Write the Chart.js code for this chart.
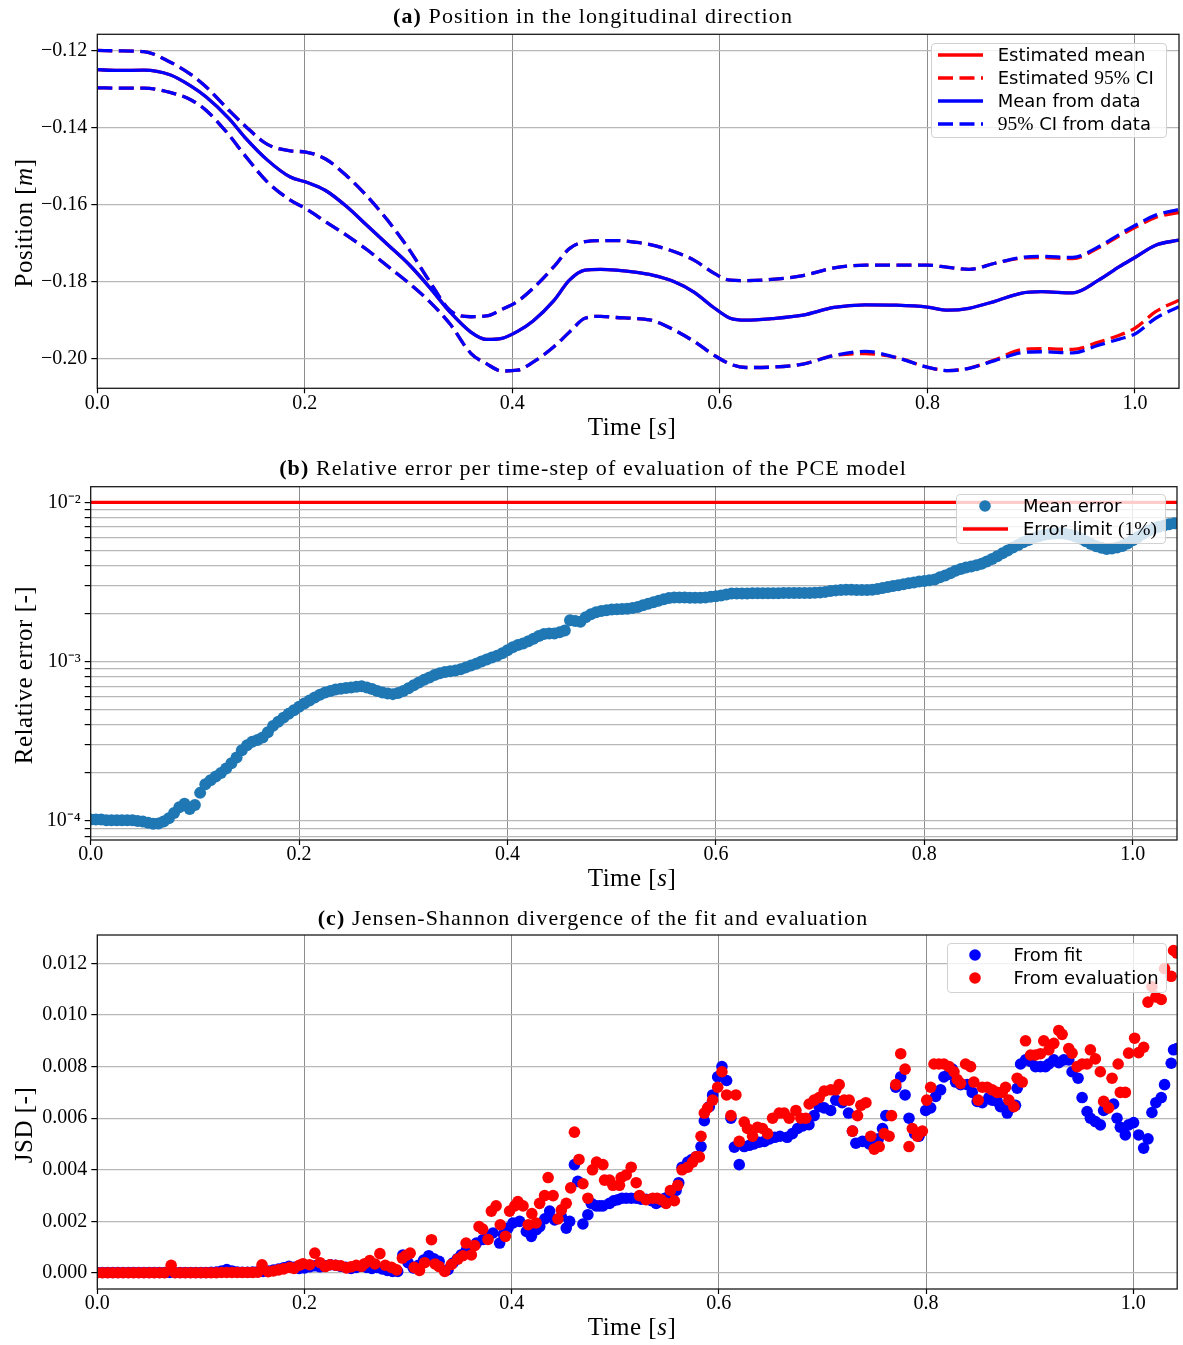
<!DOCTYPE html>
<html>
<head>
<meta charset="utf-8">
<title>PCE model evaluation</title>
<script src="https://cdn.jsdelivr.net/npm/chart.js@4.4.1/dist/chart.umd.min.js"></script>
<style>
    html, body { margin: 0; padding: 0; background: #fff; }
    #figure { position: relative; width: 1183px; height: 1345px; overflow: hidden; font-family: 'Liberation Serif', serif; color: #000; }
    canvas { position: absolute; left: 0; }
    .title { position: absolute; transform: translateX(-50%); font-size: 22px; line-height: 22px; letter-spacing: 1.1px; white-space: nowrap; }
    .xlab { position: absolute; transform: translateX(-50%); font-size: 25px; line-height: 25px; letter-spacing: 0.5px; white-space: nowrap; }
    .ylab { position: absolute; transform: translate(-50%, -50%) rotate(-90deg); font-size: 25px; line-height: 25px; letter-spacing: 0.5px; white-space: nowrap; }
    .legend { position: absolute; box-sizing: border-box; border: 1px solid #d2d2d2; border-radius: 4px; background: rgba(255, 255, 255, 0.8); }
    .row { position: absolute; left: 0; width: 100%; height: 24px; }
    .row svg { position: absolute; top: 0; }
    .ltext { position: absolute; top: 0; line-height: 24px; font-family: 'DejaVu Sans', sans-serif; font-size: 18px; white-space: nowrap; }
    .cm { font-family: 'Liberation Serif', serif; font-size: 19.5px; }
</style>
</head>
<body>
<div id="figure">
    <canvas id="chartA" width="1183" height="450" style="top:0px"></canvas>
    <canvas id="chartB" width="1183" height="450" style="top:450px"></canvas>
    <canvas id="chartC" width="1183" height="447" style="top:898px"></canvas>

    <div class="title" style="left:593px;top:5px"><b>(a)</b> Position in the longitudinal direction</div>
    <div class="title" style="left:593px;top:457px"><b>(b)</b> Relative error per time-step of evaluation of the PCE model</div>
    <div class="title" style="left:593px;top:906.5px"><b>(c)</b> Jensen-Shannon divergence of the fit and evaluation</div>

    <div class="xlab" style="left:632px;top:414px">Time [<i>s</i>]</div>
    <div class="xlab" style="left:632px;top:865px">Time [<i>s</i>]</div>
    <div class="xlab" style="left:632px;top:1314px">Time [<i>s</i>]</div>

    <div class="ylab" style="left:23px;top:223px">Position [<i>m</i>]</div>
    <div class="ylab" style="left:23px;top:675px">Relative error [-]</div>
    <div class="ylab" style="left:23px;top:1125px">JSD [-]</div>

    <!-- legend (a) -->
    <div class="legend" style="left:931px;top:43px;width:236px;height:95px">
        <div class="row" style="top:-1.5px">
            <svg width="45" height="24" style="left:5.5px"><line x1="0" y1="12" x2="45" y2="12" stroke="#ff0000" stroke-width="3.3"/></svg>
            <span class="ltext" style="left:65.7px">Estimated mean</span>
        </div>
        <div class="row" style="top:21.8px">
            <svg width="45" height="24" style="left:5.5px"><line x1="0" y1="12" x2="45" y2="12" stroke="#ff0000" stroke-width="3.3" stroke-dasharray="15 6.5"/></svg>
            <span class="ltext" style="left:65.7px">Estimated <span class="cm">95%</span> CI</span>
        </div>
        <div class="row" style="top:45.1px">
            <svg width="45" height="24" style="left:5.5px"><line x1="0" y1="12" x2="45" y2="12" stroke="#0000ff" stroke-width="3.3"/></svg>
            <span class="ltext" style="left:65.7px">Mean from data</span>
        </div>
        <div class="row" style="top:68.4px">
            <svg width="45" height="24" style="left:5.5px"><line x1="0" y1="12" x2="45" y2="12" stroke="#0000ff" stroke-width="3.3" stroke-dasharray="15 6.5"/></svg>
            <span class="ltext" style="left:65.7px"><span class="cm">95%</span> CI from data</span>
        </div>
    </div>

    <!-- legend (b) -->
    <div class="legend" style="left:956px;top:494px;width:210px;height:50px">
        <div class="row" style="top:-1.3px">
            <svg width="14" height="24" style="left:21.2px"><circle cx="7" cy="12" r="5.8" fill="#1f77b4"/></svg>
            <span class="ltext" style="left:66px">Mean error</span>
        </div>
        <div class="row" style="top:22px">
            <svg width="45" height="24" style="left:5.9px"><line x1="0" y1="12" x2="45" y2="12" stroke="#ff0000" stroke-width="3.3"/></svg>
            <span class="ltext" style="left:66px">Error limit <span class="cm">(1%)</span></span>
        </div>
    </div>

    <!-- legend (c) -->
    <div class="legend" style="left:947px;top:943px;width:220px;height:50px">
        <div class="row" style="top:-1.3px">
            <svg width="14" height="24" style="left:20.4px"><circle cx="7" cy="12" r="5.8" fill="#0000ff"/></svg>
            <span class="ltext" style="left:65.6px">From fit</span>
        </div>
        <div class="row" style="top:22px">
            <svg width="14" height="24" style="left:20.4px"><circle cx="7" cy="12" r="5.8" fill="#ff0000"/></svg>
            <span class="ltext" style="left:65.6px">From evaluation</span>
        </div>
    </div>
</div>

<script>
/* =========================
   Data
========================= */
const tMax = 1.0425;
const timeTicks = [0, 0.2, 0.4, 0.6, 0.8, 1.0];

// (a) position, mean and 95% CI
const posTime = [0, 0.02, 0.045, 0.07, 0.09, 0.105, 0.127, 0.142, 0.164, 0.186,
    0.201, 0.22, 0.24, 0.26, 0.28, 0.30, 0.32, 0.34, 0.36, 0.375,
    0.39, 0.405, 0.42, 0.44, 0.455, 0.47, 0.485, 0.50, 0.52, 0.535,
    0.555, 0.575, 0.595, 0.61, 0.625, 0.65, 0.68, 0.71, 0.74, 0.77,
    0.80, 0.82, 0.84, 0.865, 0.89, 0.91, 0.94, 0.965, 0.985, 1.0,
    1.02, 1.0425];
const meanData = [-0.1250, -0.1252, -0.1251, -0.1263, -0.1292, -0.1321, -0.1377, -0.1425, -0.1485, -0.1529,
    -0.1542, -0.1564, -0.1605, -0.1655, -0.1705, -0.1755, -0.1815, -0.1880, -0.1932, -0.1951,
    -0.1948, -0.1930, -0.1903, -0.1850, -0.1797, -0.1771, -0.1769, -0.1771, -0.1777, -0.1784,
    -0.1800, -0.1828, -0.1870, -0.1896, -0.1901, -0.1897, -0.1888, -0.1868, -0.1861, -0.1862,
    -0.1867, -0.1875, -0.1870, -0.1852, -0.1831, -0.1827, -0.1830, -0.1797, -0.1762, -0.1738,
    -0.1706, -0.1693];
const meanEst = meanData.slice();
const upperData = [-0.1200, -0.1201, -0.1203, -0.1230, -0.1262, -0.1295, -0.1356, -0.1395, -0.1444, -0.1461,
    -0.1464, -0.1482, -0.1525, -0.1579, -0.1642, -0.1715, -0.1799, -0.1876, -0.1892, -0.1890,
    -0.1873, -0.1852, -0.1818, -0.1762, -0.1715, -0.1697, -0.1694, -0.1694, -0.1699, -0.1706,
    -0.1722, -0.1745, -0.1780, -0.1797, -0.1798, -0.1795, -0.1785, -0.1765, -0.1758, -0.1758,
    -0.1758, -0.1764, -0.1769, -0.1753, -0.1738, -0.1735, -0.1738, -0.1710, -0.1678, -0.1655,
    -0.1628, -0.1613];
const upperEst = [-0.1200, -0.1201, -0.1203, -0.1230, -0.1262, -0.1295, -0.1356, -0.1395, -0.1444, -0.1461,
    -0.1464, -0.1482, -0.1525, -0.1579, -0.1642, -0.1715, -0.1799, -0.1876, -0.1892, -0.1890,
    -0.1873, -0.1852, -0.1818, -0.1762, -0.1715, -0.1697, -0.1694, -0.1694, -0.1699, -0.1706,
    -0.1722, -0.1745, -0.1780, -0.1797, -0.1798, -0.1795, -0.1785, -0.1765, -0.1758, -0.1758,
    -0.1758, -0.1764, -0.1769, -0.1753, -0.1740, -0.1738, -0.1741, -0.1713, -0.1682, -0.1660,
    -0.1634, -0.1621];
const lowerData = [-0.1297, -0.1298, -0.1298, -0.1309, -0.1328, -0.1356, -0.1420, -0.1472, -0.1542, -0.1589,
    -0.1611, -0.1645, -0.1680, -0.1718, -0.1761, -0.1804, -0.1852, -0.1911, -0.1987, -0.2014,
    -0.2033, -0.2031, -0.2010, -0.1970, -0.1932, -0.1896, -0.1891, -0.1894, -0.1897, -0.1902,
    -0.1925, -0.1956, -0.1993, -0.2015, -0.2024, -0.2023, -0.2015, -0.1993, -0.1982, -0.1998,
    -0.2023, -0.2032, -0.2026, -0.2006, -0.1986, -0.1983, -0.1986, -0.1966, -0.1950, -0.1937,
    -0.1896, -0.1866];
const lowerEst = [-0.1297, -0.1298, -0.1298, -0.1309, -0.1328, -0.1356, -0.1420, -0.1472, -0.1542, -0.1589,
    -0.1611, -0.1645, -0.1680, -0.1718, -0.1761, -0.1804, -0.1852, -0.1911, -0.1987, -0.2014,
    -0.2033, -0.2031, -0.2010, -0.1970, -0.1932, -0.1896, -0.1891, -0.1894, -0.1897, -0.1902,
    -0.1925, -0.1956, -0.1993, -0.2015, -0.2024, -0.2023, -0.2015, -0.1993, -0.1988, -0.1998,
    -0.2023, -0.2032, -0.2026, -0.2004, -0.1978, -0.1975, -0.1977, -0.1958, -0.1940, -0.1922,
    -0.1879, -0.1849];
const posTicks = [-0.20, -0.18, -0.16, -0.14, -0.12];

// (b) relative error of the PCE evaluation
const errTime = [0, 0.005, 0.01, 0.015, 0.02, 0.025, 0.03, 0.035, 0.04, 0.045,
    0.05, 0.055, 0.06, 0.065, 0.07, 0.075, 0.08, 0.085, 0.09, 0.095,
    0.1, 0.105, 0.11, 0.115, 0.12, 0.125, 0.13, 0.135, 0.14, 0.145,
    0.15, 0.155, 0.16, 0.165, 0.17, 0.175, 0.18, 0.185, 0.19, 0.195,
    0.2, 0.205, 0.21, 0.215, 0.22, 0.225, 0.23, 0.235, 0.24, 0.245,
    0.25, 0.255, 0.26, 0.265, 0.27, 0.275, 0.28, 0.285, 0.29, 0.295,
    0.3, 0.305, 0.31, 0.315, 0.32, 0.325, 0.33, 0.335, 0.34, 0.345,
    0.35, 0.355, 0.36, 0.365, 0.37, 0.375, 0.38, 0.385, 0.39, 0.395,
    0.4, 0.405, 0.41, 0.415, 0.42, 0.425, 0.43, 0.435, 0.44, 0.445,
    0.45, 0.455, 0.46, 0.465, 0.47, 0.475, 0.48, 0.485, 0.49, 0.495,
    0.5, 0.505, 0.51, 0.515, 0.52, 0.525, 0.53, 0.535, 0.54, 0.545,
    0.55, 0.555, 0.56, 0.565, 0.57, 0.575, 0.58, 0.585, 0.59, 0.595,
    0.6, 0.605, 0.61, 0.615, 0.62, 0.625, 0.63, 0.635, 0.64, 0.645,
    0.65, 0.655, 0.66, 0.665, 0.67, 0.675, 0.68, 0.685, 0.69, 0.695,
    0.7, 0.705, 0.71, 0.715, 0.72, 0.725, 0.73, 0.735, 0.74, 0.745,
    0.75, 0.755, 0.76, 0.765, 0.77, 0.775, 0.78, 0.785, 0.79, 0.795,
    0.8, 0.805, 0.81, 0.815, 0.82, 0.825, 0.83, 0.835, 0.84, 0.845,
    0.85, 0.855, 0.86, 0.865, 0.87, 0.875, 0.88, 0.885, 0.89, 0.895,
    0.9, 0.905, 0.91, 0.915, 0.92, 0.925, 0.93, 0.935, 0.94, 0.945,
    0.95, 0.955, 0.96, 0.965, 0.97, 0.975, 0.98, 0.985, 0.99, 0.995,
    1.0, 1.005, 1.01, 1.015, 1.02, 1.025, 1.03, 1.035, 1.04];
const errValue = [1.02e-4, 1.02e-4, 1.02e-4, 1.01e-4, 1.01e-4, 1.01e-4, 1.01e-4, 1.01e-4, 1.01e-4, 1.00e-4,
    9.9e-5, 9.75e-5, 9.6e-5, 9.65e-5, 9.9e-5, 1.04e-4, 1.12e-4, 1.22e-4, 1.28e-4, 1.19e-4,
    1.26e-4, 1.50e-4, 1.70e-4, 1.80e-4, 1.90e-4, 2.00e-4, 2.13e-4, 2.30e-4, 2.50e-4, 2.78e-4,
    2.98e-4, 3.14e-4, 3.22e-4, 3.34e-4, 3.60e-4, 3.95e-4, 4.20e-4, 4.45e-4, 4.70e-4, 4.95e-4,
    5.20e-4, 5.45e-4, 5.70e-4, 5.95e-4, 6.20e-4, 6.40e-4, 6.55e-4, 6.68e-4, 6.75e-4, 6.82e-4,
    6.88e-4, 6.95e-4, 7.00e-4, 6.88e-4, 6.72e-4, 6.55e-4, 6.40e-4, 6.30e-4, 6.25e-4, 6.35e-4,
    6.55e-4, 6.80e-4, 7.10e-4, 7.40e-4, 7.70e-4, 7.95e-4, 8.25e-4, 8.45e-4, 8.60e-4, 8.70e-4,
    8.80e-4, 8.95e-4, 9.20e-4, 9.45e-4, 9.70e-4, 1.00e-3, 1.03e-3, 1.06e-3, 1.09e-3, 1.13e-3,
    1.18e-3, 1.23e-3, 1.27e-3, 1.30e-3, 1.34e-3, 1.39e-3, 1.45e-3, 1.49e-3, 1.50e-3, 1.50e-3,
    1.53e-3, 1.57e-3, 1.82e-3, 1.80e-3, 1.78e-3, 1.90e-3, 1.98e-3, 2.04e-3, 2.08e-3, 2.10e-3,
    2.12e-3, 2.13e-3, 2.14e-3, 2.15e-3, 2.17e-3, 2.20e-3, 2.26e-3, 2.31e-3, 2.36e-3, 2.41e-3,
    2.46e-3, 2.51e-3, 2.53e-3, 2.53e-3, 2.53e-3, 2.52e-3, 2.52e-3, 2.52e-3, 2.53e-3, 2.55e-3,
    2.57e-3, 2.60e-3, 2.64e-3, 2.68e-3, 2.68e-3, 2.68e-3, 2.68e-3, 2.69e-3, 2.69e-3, 2.69e-3,
    2.69e-3, 2.69e-3, 2.69e-3, 2.70e-3, 2.70e-3, 2.70e-3, 2.70e-3, 2.70e-3, 2.70e-3, 2.71e-3,
    2.72e-3, 2.74e-3, 2.77e-3, 2.80e-3, 2.82e-3, 2.83e-3, 2.83e-3, 2.82e-3, 2.82e-3, 2.82e-3,
    2.83e-3, 2.86e-3, 2.90e-3, 2.94e-3, 2.98e-3, 3.02e-3, 3.06e-3, 3.10e-3, 3.14e-3, 3.18e-3,
    3.21e-3, 3.24e-3, 3.28e-3, 3.38e-3, 3.47e-3, 3.58e-3, 3.72e-3, 3.82e-3, 3.90e-3, 3.96e-3,
    4.03e-3, 4.12e-3, 4.25e-3, 4.40e-3, 4.58e-3, 4.78e-3, 4.98e-3, 5.20e-3, 5.40e-3, 5.62e-3,
    5.80e-3, 5.98e-3, 6.13e-3, 6.25e-3, 6.33e-3, 6.38e-3, 6.40e-3, 6.35e-3, 6.25e-3, 6.10e-3,
    5.92e-3, 5.70e-3, 5.48e-3, 5.30e-3, 5.18e-3, 5.10e-3, 5.12e-3, 5.20e-3, 5.32e-3, 5.52e-3,
    5.78e-3, 6.05e-3, 6.35e-3, 6.62e-3, 6.85e-3, 7.02e-3, 7.15e-3, 7.28e-3, 7.38e-3];
const errorLimit = 0.01;
const errTicks = [8e-5, 9e-5,
    1e-4, 2e-4, 3e-4, 4e-4, 5e-4, 6e-4, 7e-4, 8e-4, 9e-4,
    1e-3, 2e-3, 3e-3, 4e-3, 5e-3, 6e-3, 7e-3, 8e-3, 9e-3,
    1e-2];
const errDecades = [1e-4, 1e-3, 1e-2];
const errDecadeLabels = ['10\u207B\u2074', '10\u207B\u00B3', '10\u207B\u00B2'];

// (c) Jensen-Shannon divergence
const fitTime = [0, 0.005, 0.01, 0.015, 0.02, 0.025, 0.03, 0.035, 0.04, 0.045,
    0.05, 0.055, 0.06, 0.065, 0.07, 0.075, 0.08, 0.085, 0.09, 0.095,
    0.1, 0.105, 0.11, 0.115, 0.12, 0.125, 0.13, 0.135, 0.14, 0.145,
    0.15, 0.155, 0.16, 0.165, 0.17, 0.175, 0.18, 0.185, 0.19, 0.195,
    0.2, 0.205, 0.21, 0.215, 0.22, 0.225, 0.23, 0.235, 0.24, 0.245,
    0.25, 0.255, 0.26, 0.265, 0.27, 0.275, 0.28, 0.285, 0.29, 0.295,
    0.3, 0.305, 0.31, 0.315, 0.32, 0.325, 0.33, 0.3386, 0.3434, 0.3475,
    0.3515, 0.3563, 0.361, 0.366, 0.3724, 0.377, 0.382, 0.3884, 0.392, 0.3965,
    0.4013, 0.4077, 0.4142, 0.419, 0.4239, 0.4271, 0.432, 0.4367, 0.4415, 0.4479,
    0.4527, 0.456, 0.4606, 0.4639, 0.4688, 0.4736, 0.4768, 0.4816, 0.4849, 0.4881,
    0.4945, 0.4985, 0.5025, 0.5065, 0.5106, 0.5154, 0.5202, 0.525, 0.5298, 0.535,
    0.5395, 0.5443, 0.548, 0.5523, 0.5587, 0.5613, 0.5645, 0.57, 0.574, 0.578,
    0.5828, 0.586, 0.5908, 0.594, 0.5989, 0.603, 0.6075, 0.6117, 0.615, 0.6197,
    0.6245, 0.6294, 0.634, 0.639, 0.644, 0.649, 0.654, 0.659, 0.666, 0.671,
    0.676, 0.681, 0.687, 0.692, 0.6968, 0.7017, 0.708, 0.7129, 0.719, 0.7252,
    0.729, 0.7323, 0.7387, 0.7452, 0.75, 0.754, 0.758, 0.7612, 0.7708, 0.7756,
    0.7798, 0.7836, 0.789, 0.7933, 0.7997, 0.8045, 0.8093, 0.8141, 0.8173, 0.822,
    0.8254, 0.8286, 0.8334, 0.8398, 0.8446, 0.8494, 0.8543, 0.8607, 0.8639, 0.8687,
    0.8719, 0.8784, 0.8816, 0.8864, 0.888, 0.8913, 0.8961, 0.9009, 0.9057, 0.9105,
    0.9153, 0.9186, 0.9234, 0.9282, 0.933, 0.9378, 0.941, 0.9468, 0.9507, 0.9555,
    0.9587, 0.9635, 0.9683, 0.9715, 0.9811, 0.9844, 0.9876, 0.9924, 0.9956, 1.0004,
    1.0053, 1.0101, 1.0143, 1.0181, 1.0219, 1.0271, 1.0303, 1.0367, 1.039, 1.0422];
const fitJsd = [2e-5, 2e-5, 2e-5, 2e-5, 2e-5, 2e-5, 2e-5, 2e-5, 2e-5, 2e-5,
    2e-5, 2e-5, 2e-5, 2e-5, 2e-5, 2e-5, 2e-5, 2e-5, 2e-5, 2e-5,
    2e-5, 2e-5, 3e-5, 4e-5, 8e-5, 1.3e-4, 8e-5, 4e-5, 3e-5, 3e-5,
    4e-5, 5e-5, 6e-5, 8e-5, 1.1e-4, 1.5e-4, 2.0e-4, 2.6e-4, 2.2e-4, 1.8e-4,
    2.0e-4, 2.4e-4, 2.8e-4, 2.4e-4, 2.8e-4, 3.2e-4, 3.0e-4, 2.6e-4, 2.2e-4, 1.8e-4,
    2.2e-4, 2.6e-4, 2.2e-4, 1.8e-4, 2.2e-4, 1.6e-4, 1.0e-4, 6e-5, 6e-5, 7.0e-4,
    4.0e-4, 2.0e-4, 3.0e-4, 5.0e-4, 6.7e-4, 5.5e-4, 4.5e-4, 1.3e-4, 3.9e-4, 5.5e-4,
    7.1e-4, 9.0e-4, 1.0e-3, 1.16e-3, 1.3e-3, 1.4e-3, 1.55e-3, 1.16e-3, 1.5e-3, 1.74e-3,
    1.94e-3, 2.0e-3, 1.61e-3, 1.42e-3, 1.68e-3, 1.8e-3, 2.1e-3, 2.4e-3, 2.06e-3, 2.2e-3,
    1.74e-3, 2.0e-3, 4.2e-3, 3.55e-3, 1.9e-3, 2.26e-3, 2.7e-3, 2.6e-3, 2.6e-3, 2.6e-3,
    2.7e-3, 2.8e-3, 2.84e-3, 2.9e-3, 2.9e-3, 2.9e-3, 2.9e-3, 2.86e-3, 2.86e-3, 2.8e-3,
    2.7e-3, 2.77e-3, 2.9e-3, 3.0e-3, 3.2e-3, 3.5e-3, 4.1e-3, 4.3e-3, 4.4e-3, 4.5e-3,
    4.9e-3, 5.9e-3, 6.45e-3, 6.9e-3, 7.6e-3, 8.0e-3, 7.46e-3, 6.0e-3, 4.88e-3, 4.2e-3,
    4.9e-3, 4.95e-3, 5.0e-3, 5.07e-3, 5.1e-3, 5.2e-3, 5.26e-3, 5.3e-3, 5.26e-3, 5.4e-3,
    5.6e-3, 5.7e-3, 5.75e-3, 6.1e-3, 6.45e-3, 6.4e-3, 6.3e-3, 6.7e-3, 6.6e-3, 6.2e-3,
    5.5e-3, 5.03e-3, 5.1e-3, 5.0e-3, 4.9e-3, 5.2e-3, 5.6e-3, 6.1e-3, 7.2e-3, 7.6e-3,
    6.9e-3, 6.0e-3, 5.4e-3, 5.3e-3, 6.3e-3, 6.4e-3, 6.84e-3, 7.1e-3, 7.6e-3, 7.7e-3,
    7.9e-3, 7.4e-3, 7.3e-3, 7.3e-3, 7.0e-3, 6.65e-3, 6.6e-3, 6.8e-3, 6.7e-3, 6.65e-3,
    6.45e-3, 6.2e-3, 6.4e-3, 6.5e-3, 7.16e-3, 8.1e-3, 8.26e-3, 8.2e-3, 8.0e-3, 8.0e-3,
    8.0e-3, 8.1e-3, 8.26e-3, 8.15e-3, 8.26e-3, 8.26e-3, 7.8e-3, 7.55e-3, 6.8e-3, 6.26e-3,
    6.0e-3, 5.87e-3, 5.74e-3, 6.3e-3, 6.55e-3, 6.0e-3, 5.65e-3, 5.35e-3, 5.74e-3, 5.83e-3,
    5.35e-3, 4.84e-3, 5.2e-3, 6.22e-3, 6.6e-3, 6.8e-3, 7.3e-3, 8.13e-3, 8.65e-3, 8.7e-3];
const evalTime = [0, 0.005, 0.01, 0.015, 0.02, 0.025, 0.03, 0.035, 0.04, 0.045,
    0.05, 0.055, 0.06, 0.065, 0.0713, 0.075, 0.08, 0.085, 0.09, 0.095,
    0.1, 0.105, 0.11, 0.115, 0.12, 0.125, 0.13, 0.135, 0.14, 0.145,
    0.15, 0.155, 0.159, 0.165, 0.17, 0.175, 0.18, 0.186, 0.19, 0.195,
    0.1986, 0.205, 0.21, 0.215, 0.22, 0.2245, 0.23, 0.235, 0.2406, 0.245,
    0.25, 0.255, 0.258, 0.263, 0.268, 0.2728, 0.278, 0.284, 0.289, 0.2945,
    0.298, 0.302, 0.306, 0.311, 0.316, 0.3226, 0.326, 0.33, 0.3354, 0.3418,
    0.348, 0.353, 0.356, 0.3611, 0.3643, 0.3685, 0.372, 0.3772, 0.3804, 0.385,
    0.389, 0.394, 0.398, 0.403, 0.406, 0.411, 0.416, 0.4195, 0.4236, 0.427,
    0.4318, 0.4352, 0.44, 0.4447, 0.448, 0.4527, 0.457, 0.4606, 0.465, 0.4688,
    0.4736, 0.478, 0.482, 0.4881, 0.4897, 0.4945, 0.4977, 0.5041, 0.5057, 0.5106,
    0.5154, 0.5202, 0.5234, 0.5298, 0.5362, 0.5405, 0.5443, 0.5491, 0.5533, 0.5571,
    0.5603, 0.5645, 0.57, 0.5747, 0.578, 0.5812, 0.5828, 0.586, 0.5892, 0.594,
    0.5989, 0.603, 0.6075, 0.6117, 0.6165, 0.6197, 0.6245, 0.6277, 0.6326, 0.6374,
    0.6422, 0.647, 0.6519, 0.6583, 0.6631, 0.6679, 0.6744, 0.6792, 0.684, 0.6872,
    0.692, 0.6968, 0.7017, 0.7081, 0.7129, 0.7162, 0.721, 0.7258, 0.729, 0.7339,
    0.7371, 0.742, 0.7467, 0.75, 0.7548, 0.7596, 0.7644, 0.7667, 0.7708, 0.7756,
    0.7798, 0.7836, 0.7868, 0.7917, 0.7965, 0.8007, 0.8045, 0.8077, 0.8125, 0.8173,
    0.8222, 0.827, 0.8302, 0.8334, 0.8382, 0.843, 0.8462, 0.8504, 0.8543, 0.8591,
    0.8639, 0.8687, 0.8736, 0.8768, 0.88, 0.8848, 0.888, 0.8929, 0.8961, 0.9009,
    0.9057, 0.9105, 0.9137, 0.9186, 0.9234, 0.9282, 0.9314, 0.9378, 0.941, 0.9459,
    0.9507, 0.9555, 0.9587, 0.9635, 0.9683, 0.9715, 0.9763, 0.9796, 0.9855, 0.9876,
    0.9924, 0.9956, 1.0014, 1.0053, 1.0101, 1.0143, 1.0181, 1.0219, 1.0271, 1.0303,
    1.0367, 1.039, 1.0422];
const evalJsd = [1e-5, 1e-5, 1e-5, 1e-5, 1e-5, 1e-5, 1e-5, 1e-5, 1e-5, 1e-5,
    1e-5, 1e-5, 1e-5, 1e-5, 3.0e-4, 1e-5, 1e-5, 1e-5, 1e-5, 1e-5,
    1e-5, 1e-5, 1e-5, 1e-5, 2e-5, 2e-5, 2e-5, 2e-5, 2e-5, 2e-5,
    2e-5, 3e-5, 3.2e-4, 5e-5, 8e-5, 1.2e-4, 1.6e-4, 2.2e-4, 1.8e-4, 3.0e-4,
    3.6e-4, 3.2e-4, 7.7e-4, 4.0e-4, 2.5e-4, 3.2e-4, 3.0e-4, 2.8e-4, 2.0e-4, 2.4e-4,
    3.0e-4, 2.6e-4, 3.6e-4, 4.8e-4, 3.5e-4, 7.5e-4, 3.0e-4, 2.2e-4, 1.2e-4, 5.8e-4,
    6.8e-4, 7.7e-4, 2.2e-4, 1.0e-4, 4.0e-4, 1.29e-3, 3.5e-4, 2.5e-4, 6e-5, 3.3e-4,
    5.4e-4, 6.7e-4, 1.16e-3, 7.0e-4, 1.06e-3, 1.8e-3, 1.7e-3, 1.3e-3, 2.4e-3, 2.6e-3,
    1.87e-3, 1.42e-3, 2.4e-3, 2.6e-3, 2.77e-3, 2.6e-3, 1.87e-3, 2.3e-3, 1.94e-3, 2.7e-3,
    3.0e-3, 3.7e-3, 3.0e-3, 2.1e-3, 2.45e-3, 2.7e-3, 3.3e-3, 5.46e-3, 4.4e-3, 3.46e-3,
    2.9e-3, 4.0e-3, 4.3e-3, 4.2e-3, 3.6e-3, 3.6e-3, 3.4e-3, 3.4e-3, 3.7e-3, 3.8e-3,
    4.1e-3, 3.5e-3, 3.0e-3, 2.84e-3, 2.9e-3, 2.9e-3, 2.84e-3, 2.7e-3, 3.2e-3, 2.8e-3,
    3.4e-3, 4.0e-3, 4.1e-3, 4.3e-3, 4.5e-3, 4.5e-3, 5.3e-3, 6.2e-3, 6.4e-3, 6.7e-3,
    7.2e-3, 7.8e-3, 6.9e-3, 6.1e-3, 6.9e-3, 5.1e-3, 5.85e-3, 5.6e-3, 5.3e-3, 5.65e-3,
    5.6e-3, 5.4e-3, 6.0e-3, 6.2e-3, 6.2e-3, 6.0e-3, 6.3e-3, 6.0e-3, 6.0e-3, 6.55e-3,
    6.7e-3, 6.8e-3, 7.05e-3, 7.1e-3, 7.1e-3, 7.3e-3, 6.7e-3, 6.7e-3, 5.5e-3, 6.1e-3,
    6.5e-3, 6.6e-3, 5.3e-3, 4.8e-3, 4.9e-3, 5.4e-3, 5.3e-3, 6.1e-3, 7.3e-3, 8.5e-3,
    7.9e-3, 4.9e-3, 5.6e-3, 5.3e-3, 5.5e-3, 6.7e-3, 7.2e-3, 8.1e-3, 8.1e-3, 8.1e-3,
    8.0e-3, 7.8e-3, 7.5e-3, 7.35e-3, 8.1e-3, 8.0e-3, 7.4e-3, 6.7e-3, 7.2e-3, 7.2e-3,
    7.1e-3, 7.0e-3, 7.0e-3, 7.2e-3, 6.7e-3, 6.45e-3, 7.55e-3, 7.4e-3, 9.0e-3, 8.45e-3,
    8.45e-3, 8.5e-3, 9.0e-3, 8.65e-3, 8.9e-3, 9.4e-3, 9.25e-3, 8.7e-3, 8.52e-3, 8.0e-3,
    8.1e-3, 8.1e-3, 8.65e-3, 8.3e-3, 7.8e-3, 6.65e-3, 6.4e-3, 7.55e-3, 8.1e-3, 7.0e-3,
    7.0e-3, 8.52e-3, 9.1e-3, 8.54e-3, 8.75e-3, 1.05e-2, 1.11e-2, 1.07e-2, 1.06e-2, 1.18e-2,
    1.15e-2, 1.25e-2, 1.24e-2];
const jsdTicks = [0, 0.002, 0.004, 0.006, 0.008, 0.010, 0.012];


/* =========================
   Shared axis setup
========================= */
const tickFont = { family: "'Liberation Serif', serif", size: 20, lineHeight: 1 };
const xGridColor = '#8c8c8c';
const yGridColor = '#b8b8b8';

function toPoints(xs, ys) {
    return xs.map((x, i) => ({ x: x, y: ys[i] }));
}

function timeAxis() {
    return {
        type: 'linear',
        min: 0,
        max: tMax,
        afterBuildTicks: scale => { scale.ticks = timeTicks.map(v => ({ value: v })); },
        afterFit: scale => { scale.height = 40; },
        ticks: { font: tickFont, color: '#000', padding: 0, maxRotation: 0, autoSkip: false,
            callback: v => v.toFixed(1) },
        grid: { color: xGridColor, lineWidth: 1, tickLength: 5, tickColor: '#000', tickWidth: 1.2 },
        border: { display: false }
    };
}

function valueAxis(extra, width) {
    return Object.assign({
        afterFit: scale => { scale.width = width; },
        grid: { color: yGridColor, lineWidth: 1.2, tickLength: 6, tickColor: '#000', tickWidth: 1.2 },
        border: { display: false }
    }, extra);
}

function baseOptions(padding, yAxis) {
    return {
        responsive: false,
        animation: false,
        events: [],
        layout: { padding: padding },
        plugins: { legend: { display: false }, tooltip: { enabled: false } },
        scales: { x: timeAxis(), y: yAxis }
    };
}

// black box round the plot area
Chart.register({
    id: 'frame',
    afterDraw(chart) {
        const a = chart.chartArea;
        const ctx = chart.ctx;
        ctx.save();
        ctx.strokeStyle = '#1a1a1a';
        ctx.lineWidth = 1.3;
        ctx.strokeRect(a.left, a.top, a.right - a.left, a.bottom - a.top);
        ctx.restore();
    }
});


/* =========================
   (a) Position
========================= */
function posLine(values, color, dashed, order) {
    return {
        data: toPoints(posTime, values),
        showLine: true,
        borderColor: color,
        borderWidth: 3.3,
        borderDash: dashed ? [15, 6.5] : [],
        pointRadius: 0,
        cubicInterpolationMode: 'monotone',
        clip: 0,
        order: order
    };
}

new Chart(document.getElementById('chartA'), {
    type: 'scatter',
    data: {
        datasets: [
            posLine(meanData, '#0000ff', false, 0),
            posLine(upperData, '#0000ff', true, 0),
            posLine(lowerData, '#0000ff', true, 0),
            posLine(meanEst, '#ff0000', false, 1),
            posLine(upperEst, '#ff0000', true, 1),
            posLine(lowerEst, '#ff0000', true, 1)
        ]
    },
    options: baseOptions({ top: 34.3, right: 4, bottom: 21.7, left: 0 }, valueAxis({
        type: 'linear',
        min: -0.2078,
        max: -0.1158,
        afterBuildTicks: scale => { scale.ticks = posTicks.map(v => ({ value: v })); },
        ticks: { font: tickFont, color: '#000', padding: 4, autoSkip: false,
            callback: v => (v < 0 ? '\u2212' : '') + Math.abs(v).toFixed(2) }
    }, 97.3))
});


/* =========================
   (b) Relative error (log scale)
========================= */
new Chart(document.getElementById('chartB'), {
    type: 'scatter',
    data: {
        datasets: [
            {
                data: [{ x: 0, y: errorLimit }, { x: tMax, y: errorLimit }],
                showLine: true,
                borderColor: '#ff0000',
                borderWidth: 3.3,
                pointRadius: 0,
                clip: 0,
                order: 0
            },
            {
                data: toPoints(errTime, errValue),
                backgroundColor: '#1f77b4',
                pointRadius: 6,
                pointBorderWidth: 0,
                clip: 0,
                order: 1
            }
        ]
    },
    options: baseOptions({ top: 36.7, right: 4, bottom: 20, left: 0 }, valueAxis({
        type: 'logarithmic',
        min: 7.59e-5,
        max: 1.253e-2,
        afterBuildTicks: scale => { scale.ticks = errTicks.map(v => ({ value: v })); },
        ticks: { font: tickFont, color: '#000', padding: 4, autoSkip: false,
            callback: v => {
                const i = errDecades.findIndex(d => Math.abs(d - v) / d < 1e-6);
                return i >= 0 ? errDecadeLabels[i] : '';
            } }
    }, 90.7))
});


/* =========================
   (c) Jensen-Shannon divergence
========================= */
new Chart(document.getElementById('chartC'), {
    type: 'scatter',
    data: {
        datasets: [
            {
                data: toPoints(evalTime, evalJsd),
                backgroundColor: '#ff0000',
                pointRadius: 5.8,
                pointBorderWidth: 0,
                clip: 0,
                order: 0
            },
            {
                data: toPoints(fitTime, fitJsd),
                backgroundColor: '#0000ff',
                pointRadius: 5.8,
                pointBorderWidth: 0,
                clip: 0,
                order: 1
            }
        ]
    },
    options: baseOptions({ top: 37, right: 4, bottom: 16, left: 0 }, valueAxis({
        type: 'linear',
        min: -0.00062,
        max: 0.0131,
        afterBuildTicks: scale => { scale.ticks = jsdTicks.map(v => ({ value: v })); },
        ticks: { font: tickFont, color: '#000', padding: 4, autoSkip: false,
            callback: v => v.toFixed(3) }
    }, 97.3))
});
</script>
</body>
</html>
